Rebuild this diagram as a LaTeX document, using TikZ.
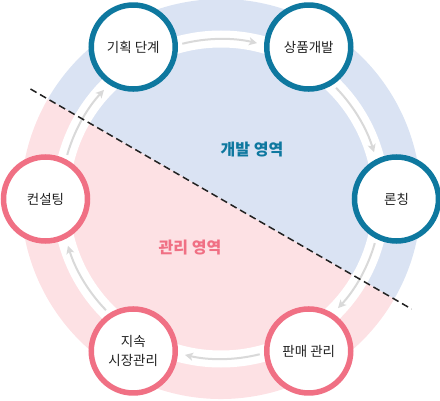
\documentclass[tikz,border=0pt]{standalone}
\usepackage{fontspec}
\newfontfamily\kr{Noto Sans CJK KR}
\usetikzlibrary{arrows.meta}
\definecolor{devblue}{HTML}{0E789F}
\definecolor{mgmtpink}{HTML}{F07084}
\definecolor{bluefill}{HTML}{DAE3F3}
\definecolor{pinkfill}{HTML}{FDE1E4}
\definecolor{arrowgray}{HTML}{D9D9D9}
\definecolor{txt}{HTML}{222222}
\tikzset{
  stage/.style={circle, draw, line width=5.5pt, fill=white, minimum size=84pt, inner sep=0pt, align=center, font=\kr\fontsize{13.5}{19}\selectfont, text=txt},
  bluestage/.style={stage, draw=devblue},
  pinkstage/.style={stage, draw=mgmtpink},
  flow/.style={draw=arrowgray, line width=2pt, -{Stealth[length=8pt,width=8pt,inset=2pt]}},
  area/.style={font=\kr\bfseries\fontsize{16}{19}\selectfont}
}
\begin{document}
\begin{tikzpicture}[x=1pt,y=1pt]
\useasboundingbox (0,0) rectangle (440,400);
\coordinate (C) at (221,201);
% halves of the disk
\fill[bluefill] ([shift={(-30:200)}]C) arc[start angle=-30, end angle=150, radius=200] -- cycle;
\fill[pinkfill] ([shift={(150:200)}]C) arc[start angle=150, end angle=330, radius=200] -- cycle;
% white track
\draw[white, line width=17pt] (C) circle[radius=160];
% arrows along the track
\foreach \a/\n in {180/a1,120/a2,60/a3,0/a4,-60/a5,-120/a6}{
  \pgfmathsetmacro{\s}{\a-16}
  \pgfmathsetmacro{\e}{\a-43}
  \coordinate (\n) at ([shift={(\s:160)}]C);
  \draw[flow] (\n) arc[start angle=\s, end angle=\e, radius=160];
}
% dividing line
\coordinate (L1) at ([shift={(150:220)}]C);
\coordinate (L2) at ([shift={(-30:220)}]C);
\draw[txt, line width=1.5pt, dash pattern=on 7pt off 4pt] (L1) -- (L2);
% stages
\node[bluestage] (plan) at ([shift={(120:175.5)}]C) {기획 단계};
\node[bluestage] (dev) at ([shift={(60:175.5)}]C) {상품개발};
\node[bluestage] (launch) at ([shift={(0:175.5)}]C) {론칭};
\node[pinkstage] (sales) at ([shift={(-60:175.5)}]C) {판매 관리};
\node[pinkstage] (market) at ([shift={(-120:175.5)}]C) {지속\\시장관리};
\node[pinkstage] (consult) at ([shift={(180:175.5)}]C) {컨설팅};
% area labels
\node[area, text=devblue] (devarea) at (252,250) {개발 영역};
\node[area, text=mgmtpink] (mgmtarea) at (190,152) {관리 영역};
\end{tikzpicture}
\end{document}
